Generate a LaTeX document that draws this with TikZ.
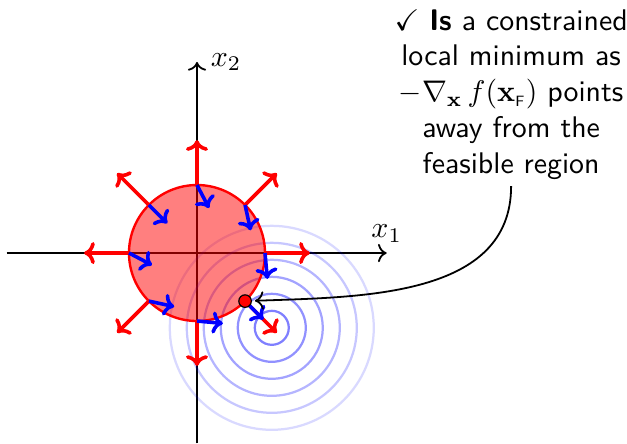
\documentclass[tikz,border=0pt]{standalone}
\usepackage{amsmath,amssymb}
\usetikzlibrary{calc,arrows.meta}
\begin{document}
\begin{tikzpicture}[x=22.78pt,y=22.78pt,
  axis/.style={semithick,->},
  vectip/.style={-{To[length=3.6pt,width=7.4pt]}},
  outarrow/.style={red,very thick,vectip},
  inarrow/.style={blue,very thick,vectip},
  contour/.style={blue,line width=0.75pt},
  note/.style={font=\sffamily,align=center,inner sep=2pt}]
\useasboundingbox (-2.897,-2.794) rectangle (6.324,3.721);
\coordinate (O) at (0,0);
\coordinate (C) at (1.1,-1.1);
% axes
\draw[axis] (-2.8,0) -- (2.79,0) node[above] (xl) {$x_1$};
\draw[axis] (0,-2.8) -- (0,2.81) node[right,xshift=1pt] (yl) {$x_2$};
% contours of the objective
\foreach \k/\op in {1/0.5,2/0.43,3/0.36,4/0.29,5/0.22,6/0.15}
  \draw[contour,opacity=\op] (C) circle[radius=0.25*\k];
% feasible region
\draw[red,thick,fill=red,fill opacity=0.5] (O) circle[radius=1];
% constraint normals and negative gradients
\foreach \a in {0,45,...,315} {
  \coordinate (p\a) at (\a:1);
  \coordinate (q\a) at (\a:1.66);
  \draw[outarrow] (p\a) -- (q\a);
}
\foreach \a in {0,45,...,315} {
  \coordinate (g\a) at ($(p\a)!8.7pt!(C)$);
  \draw[inarrow] (p\a) -- (g\a);
}
% point on the boundary
\node[circle,fill=red,draw=black,thin,inner sep=0pt,minimum size=4.2pt] (dot) at (-45:1) {};
% annotation
\node[note,anchor=north] (note) at (4.62,3.68)
  {$\checkmark$ \textbf{Is} a constrained\\
   local minimum as\\
   $-\nabla_{\mathbf{x}}\, f(\mathbf{x}_{\scriptscriptstyle\mathsf{F}})$ points\\
   away from the\\
   feasible region};
\draw[semithick,->,shorten >=1pt] (note.south) to[out=-90,in=2] (dot);
\end{tikzpicture}
\end{document}
